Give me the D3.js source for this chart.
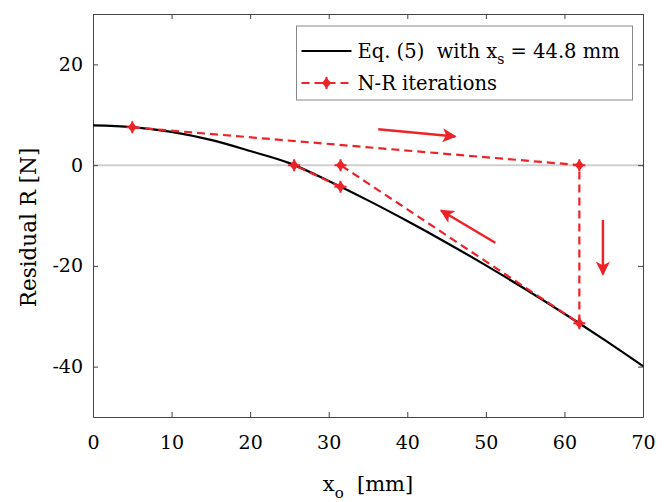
<!DOCTYPE html>
<html>
<head>
<meta charset="utf-8">
<script src="https://cdn.jsdelivr.net/npm/d3@7"></script>
<style>
  body { margin: 0; background: #fff; }
</style>
</head>
<body>
<div id="chart"></div>
<script>
// curve Eq. (5)
const curveX = [0, 5, 10, 15, 20, 25, 30, 35, 40, 45, 50, 55, 60, 65, 70];
const curveR = [7.9, 7.55, 6.6, 5.0, 2.8, 0.4, -3.15, -7.0, -11.1, -15.4, -19.9, -24.6, -29.5, -34.6, -39.9];

// Newton-Raphson iterations (in drawing order); pen 0 = jump without a line
const iterX = [5, 61.9, 61.9, 31.5, 31.5, 25.6];
const iterR = [7.5, 0, -31.4, 0, -4.3, 0];
const iterPen = [1, 1, 1, 1, 0, 1];

const xTicks = [0, 10, 20, 30, 40, 50, 60, 70];
const yTicks = [-40, -20, 0, 20];

// annotation arrows [x1, r1, x2, r2]
const arrows = [
  [36.3, 7.1, 46.1, 5.7],
  [51.2, -15.4, 44.3, -9.0],
  [64.9, -10.9, 64.9, -21.7]
];

const FONT = "'DejaVu Serif', 'Liberation Serif', serif";
const red = "#ee2229";
const margin = { top: 14, right: 27, bottom: 85, left: 93 };
const width = 670 - margin.left - margin.right;
const height = 502 - margin.top - margin.bottom;

const root = d3.select("#chart").append("svg")
  .attr("width", 670)
  .attr("height", 502)
  .attr("font-family", FONT);

const defs = root.append("defs");
defs.append("marker")
  .attr("id", "head")
  .attr("viewBox", "0 0 10 10")
  .attr("refX", 9)
  .attr("refY", 5)
  .attr("markerUnits", "userSpaceOnUse")
  .attr("markerWidth", 19)
  .attr("markerHeight", 14)
  .attr("orient", "auto")
  .append("path")
  .attr("d", "M0,0L10,5L0,10L2.5,5Z")
  .attr("fill", red);

const svg = root.append("g")
  .attr("transform", `translate(${margin.left},${margin.top})`);

const x = d3.scaleLinear().domain([0, 70]).range([0, width]);
const y = d3.scaleLinear().domain([-50, 30]).range([height, 0]);

// zero line
svg.append("line")
  .attr("x1", x(0)).attr("x2", x(70))
  .attr("y1", y(0)).attr("y2", y(0))
  .attr("stroke", "#cfcfcf")
  .attr("stroke-width", 2);

// axes with inside ticks (box style)
const axisColor = "#444";
const gx = svg.append("g").attr("transform", `translate(0,${height})`)
  .call(d3.axisBottom(x).tickValues(xTicks).tickSizeInner(-5).tickSizeOuter(0).tickPadding(23));
const gxTop = svg.append("g")
  .call(d3.axisTop(x).tickValues(xTicks).tickSizeInner(-5).tickSizeOuter(0).tickFormat(""));
const gy = svg.append("g")
  .call(d3.axisLeft(y).tickValues(yTicks).tickSizeInner(-5).tickSizeOuter(0).tickPadding(10)
    .tickFormat(d => String(d)));
const gyRight = svg.append("g").attr("transform", `translate(${width},0)`)
  .call(d3.axisRight(y).tickValues(yTicks).tickSizeInner(-5).tickSizeOuter(0).tickFormat(""));

[gx, gxTop, gy, gyRight].forEach(g => {
  g.attr("font-family", FONT).attr("font-size", 19);
  g.select(".domain").attr("stroke", axisColor).attr("stroke-width", 1);
  g.selectAll(".tick line").attr("stroke", axisColor);
  g.selectAll("text").attr("fill", "#000");
});
gx.selectAll("text").attr("dy", "0.45em");

// curve
const pts = curveX.map((d, i) => [d, curveR[i]]);
svg.append("path")
  .datum(pts)
  .attr("fill", "none")
  .attr("stroke", "#000")
  .attr("stroke-width", 2.2)
  .attr("d", d3.line().x(d => x(d[0])).y(d => y(d[1])).curve(d3.curveCatmullRom));

// N-R iterations
const it = iterX.map((d, i) => [d, iterR[i], iterPen[i]]);
const p = d3.path();
it.forEach((d, i) => {
  if (i === 0 || !d[2]) p.moveTo(x(d[0]), y(d[1]));
  else p.lineTo(x(d[0]), y(d[1]));
});
svg.append("path")
  .attr("fill", "none")
  .attr("stroke", red)
  .attr("stroke-width", 2.2)
  .attr("stroke-dasharray", "8,5")
  .attr("d", p.toString());

function star(g, cx, cy) {
  g.append("path")
    .attr("d", `M${cx},${cy - 5.5}L${cx + 4.5},${cy}L${cx},${cy + 5.5}L${cx - 4.5},${cy}Z`)
    .attr("fill", red);
  g.append("path")
    .attr("d", `M${cx - 6},${cy}H${cx + 6}M${cx},${cy - 6}V${cy + 6}`)
    .attr("stroke", red)
    .attr("stroke-width", 2);
}
it.forEach(d => star(svg, x(d[0]), y(d[1])));

// arrows
svg.selectAll("line.arrow")
  .data(arrows)
  .enter()
  .append("line")
  .attr("class", "arrow")
  .attr("x1", d => x(d[0])).attr("y1", d => y(d[1]))
  .attr("x2", d => x(d[2])).attr("y2", d => y(d[3]))
  .attr("stroke", red)
  .attr("stroke-width", 2.5)
  .attr("marker-end", "url(#head)");

// legend
const lg = svg.append("g").attr("transform", `translate(${296.5 - margin.left},${26 - margin.top})`);
lg.append("rect")
  .attr("width", 336).attr("height", 74)
  .attr("fill", "#fff")
  .attr("stroke", "#888")
  .attr("stroke-width", 1);
lg.append("line")
  .attr("x1", 5).attr("x2", 55).attr("y1", 25).attr("y2", 25)
  .attr("stroke", "#000").attr("stroke-width", 2.2);
const t1 = lg.append("text").attr("x", 61).attr("y", 32).attr("font-size", 19.5);
t1.append("tspan").text("Eq. (5)\u00a0\u00a0with x");
t1.append("tspan").attr("dy", 6).attr("font-size", 14).text("s");
t1.append("tspan").attr("dy", -6).text(" = 44.8 mm");
lg.append("line")
  .attr("x1", 5).attr("x2", 55).attr("y1", 57).attr("y2", 57)
  .attr("stroke", red).attr("stroke-width", 2.2).attr("stroke-dasharray", "8,5");
star(lg, 30, 57);
lg.append("text").attr("x", 61).attr("y", 64).attr("font-size", 19.5).text("N-R iterations");

// axis labels
const xl = svg.append("text")
  .attr("x", width / 2)
  .attr("y", height + 74)
  .attr("text-anchor", "middle")
  .attr("font-size", 21);
xl.append("tspan").text("x");
xl.append("tspan").attr("dy", 7).attr("font-size", 15).text("o");
xl.append("tspan").attr("dy", -7).text("\u00a0 [mm]");

svg.append("text")
  .attr("transform", `translate(${28 - margin.left},${height / 2 + 12}) rotate(-90)`)
  .attr("text-anchor", "middle")
  .attr("dy", "0.35em")
  .attr("font-size", 21.5)
  .text("Residual R [N]");
</script>
</body>
</html>
